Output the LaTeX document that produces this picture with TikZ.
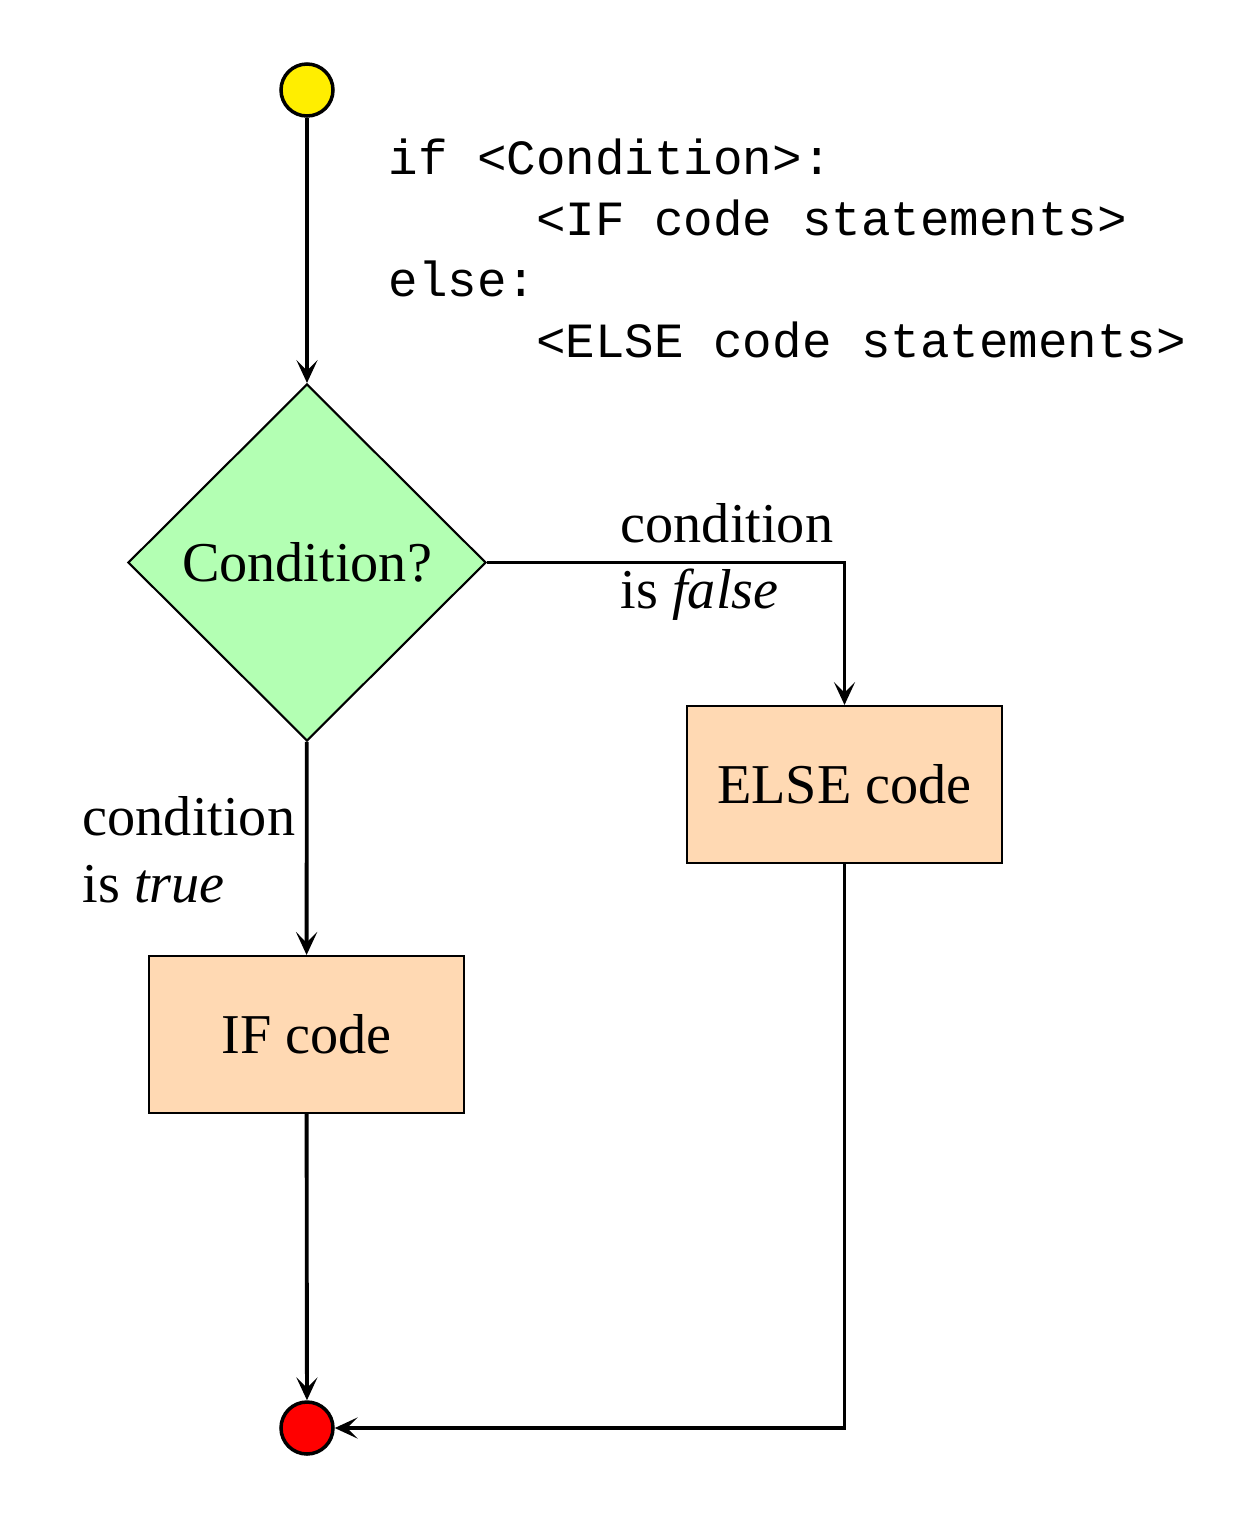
\documentclass[tikz,border=0pt]{standalone}
\usepackage{fontspec}
\setmainfont{Liberation Serif}
\setmonofont{Liberation Mono}
\usepackage{xcolor}
\usepackage{tikz}
\usetikzlibrary{shapes.geometric, arrows.meta, positioning}
\definecolor{startcol}{RGB}{255,238,0}
\definecolor{endcol}{RGB}{255,0,0}
\definecolor{decisioncol}{RGB}{179,255,179}
\definecolor{codecol}{RGB}{255,217,179}
\tikzset{
    terminal/.style={circle, draw, line width=1pt, minimum size=0.52cm, inner sep=0pt},
    decision/.style={diamond, draw, semithick, fill=decisioncol, minimum width=3.58cm, minimum height=3.57cm, inner sep=0pt, text centered, font=\fontsize{16pt}{19pt}\selectfont},
    codeblock/.style={rectangle, draw, semithick, fill=codecol, minimum width=3.15cm, minimum height=1.57cm, text centered, font=\fontsize{16pt}{19pt}\selectfont},
    label/.style={inner sep=0pt, align=left, font=\fontsize{16pt}{19pt}\selectfont},
    listing/.style={inner sep=0pt, align=left, font=\ttfamily\fontsize{14pt}{17.4pt}\selectfont},
    flow/.style={->, line width=1.1pt, >={Stealth[length=6.5pt, width=6pt, inset=3pt]}}
}

\begin{document}
\begin{tikzpicture}
    \useasboundingbox (0,0) rectangle (12.54,-15.2);

    % Start and end
    \node[terminal, fill=startcol] (start) at (3.07,-0.90) {};
    \node[terminal, fill=endcol] (stop) at (3.07,-14.28) {};

    % Decision
    \node[decision] (cond) at (3.07,-5.625) {Condition?};

    % Branches
    \node[codeblock] (ifcode) at (3.065,-10.345) {IF code};
    \node[codeblock] (elsecode) at (8.445,-7.845) {ELSE code};

    % Syntax
    \node[listing, anchor=north west] (syntax) at (3.88,-1.38) {if <Condition>:\\
        \phantom{xxxxx}<IF code statements>\\
        else:\\
        \phantom{xxxxx}<ELSE code statements>};

    % Branch labels
    \node[label, anchor=west] (falselbl) at (6.20,-5.62) {condition\\is \textit{false}};
    \node[label, anchor=west] (truelbl) at (0.82,-8.50) {condition\\is\ \textit{true}};

    % Connections
    \draw[flow] (start) -- (cond);
    \draw[flow] (cond) -- (ifcode);
    \draw[flow] (cond.east) -| (elsecode.north);
    \draw[flow] (ifcode) -- (stop);
    \draw[flow] (elsecode.south) |- (stop.east);
\end{tikzpicture}
\end{document}
